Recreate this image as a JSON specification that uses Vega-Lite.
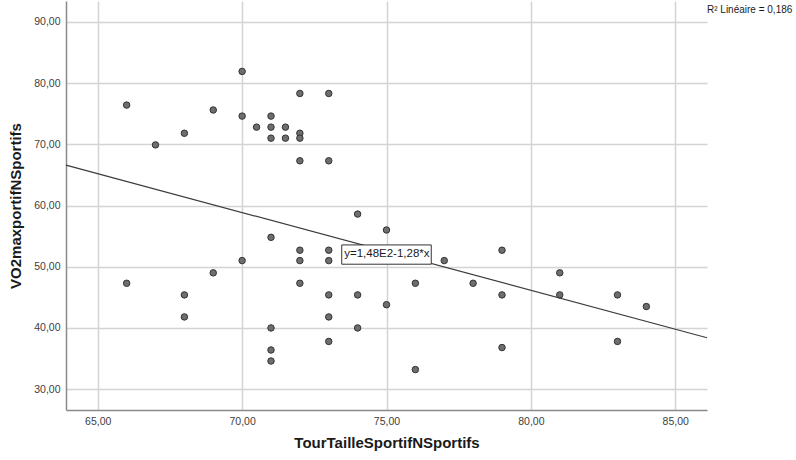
{
  "$schema": "https://vega.github.io/schema/vega-lite/v6.json",
  "autosize": {"type": "none"},
  "padding": {"left": 66, "top": 1, "right": 89, "bottom": 50},
  "width": 641,
  "height": 409,
  "background": "white",
  "config": {
    "view": {"stroke": null},
    "font": "Liberation Sans",
    "axis": {
      "grid": true,
      "gridColor": "#d4d4d4",
      "gridWidth": 1.5,
      "domainColor": "#8a8a8a",
      "domainWidth": 1.5,
      "ticks": false,
      "labelFont": "Liberation Sans",
      "labelFontSize": 10.5,
      "labelColor": "#404040",
      "titleFont": "Liberation Sans",
      "titleFontSize": 15,
      "titleFontWeight": "bold",
      "titleColor": "#1a1a1a"
    }
  },
  "datasets": {
    "pts": [
      {"tour": 66, "vo2": 76.4}, {"tour": 67, "vo2": 69.9}, {"tour": 68, "vo2": 71.8}, {"tour": 69, "vo2": 75.6},
      {"tour": 70, "vo2": 81.9}, {"tour": 70, "vo2": 74.6}, {"tour": 70.5, "vo2": 72.8}, {"tour": 71, "vo2": 74.6},
      {"tour": 71, "vo2": 72.8}, {"tour": 71, "vo2": 71.0}, {"tour": 71.5, "vo2": 72.8}, {"tour": 71.5, "vo2": 71.0},
      {"tour": 72, "vo2": 78.3}, {"tour": 72, "vo2": 71.8}, {"tour": 72, "vo2": 71.0}, {"tour": 72, "vo2": 67.3},
      {"tour": 73, "vo2": 78.3}, {"tour": 73, "vo2": 67.3},
      {"tour": 66, "vo2": 47.3}, {"tour": 68, "vo2": 45.4}, {"tour": 68, "vo2": 41.8}, {"tour": 69, "vo2": 49.0},
      {"tour": 70, "vo2": 51.0}, {"tour": 71, "vo2": 54.8}, {"tour": 71, "vo2": 40.0}, {"tour": 71, "vo2": 36.4},
      {"tour": 71, "vo2": 34.6}, {"tour": 72, "vo2": 52.7}, {"tour": 72, "vo2": 51.0}, {"tour": 72, "vo2": 47.3},
      {"tour": 73, "vo2": 52.7}, {"tour": 73, "vo2": 51.0}, {"tour": 73, "vo2": 45.4}, {"tour": 73, "vo2": 41.8},
      {"tour": 73, "vo2": 37.8}, {"tour": 74, "vo2": 58.6}, {"tour": 74, "vo2": 45.4}, {"tour": 74, "vo2": 40.0},
      {"tour": 75, "vo2": 56.0}, {"tour": 75, "vo2": 43.8}, {"tour": 76, "vo2": 47.3}, {"tour": 76, "vo2": 33.2},
      {"tour": 77, "vo2": 51.0}, {"tour": 78, "vo2": 47.3}, {"tour": 79, "vo2": 52.7}, {"tour": 79, "vo2": 45.4},
      {"tour": 79, "vo2": 36.8}, {"tour": 81, "vo2": 49.0}, {"tour": 81, "vo2": 45.4}, {"tour": 83, "vo2": 45.4},
      {"tour": 83, "vo2": 37.8}, {"tour": 84, "vo2": 43.5}
    ],
    "fit": [{"tour": 63.9, "vo2": 66.6}, {"tour": 86.1, "vo2": 38.4}],
    "box": [{"x1": 73.45, "x2": 76.55, "y1": 53.56, "y2": 50.41, "label": "y=1,48E2-1,28*x", "tx": 73.5, "ty": 52.0}],
    "r2": [{"tour": 86.1, "vo2": 91.93, "label": "R² Linéaire = 0,186"}]
  },
  "layer": [
    {
      "data": {"name": "pts"},
      "mark": {"type": "point", "filled": true, "shape": "circle", "size": 42, "fill": "#6e6e6e", "stroke": "#333333", "strokeWidth": 1, "opacity": 1},
      "encoding": {
        "x": {
          "field": "tour", "type": "quantitative",
          "scale": {"domain": [63.9, 86.1], "nice": false, "zero": false},
          "axis": {
            "title": "TourTailleSportifNSportifs",
            "values": [65, 70, 75, 80, 85],
            "labelExpr": "replace(format(datum.value, '.2f'), '.', ',')",
            "labelPadding": 6,
            "titlePadding": 9
          }
        },
        "y": {
          "field": "vo2", "type": "quantitative",
          "scale": {"domain": [26.6, 93.4], "nice": false, "zero": false},
          "axis": {
            "title": "VO2maxportifNSportifs",
            "values": [30, 40, 50, 60, 70, 80, 90],
            "labelExpr": "replace(format(datum.value, '.2f'), '.', ',')",
            "labelPadding": 6,
            "titlePadding": 10
          }
        }
      }
    },
    {
      "data": {"name": "fit"},
      "mark": {"type": "line", "color": "#3c3c3c", "strokeWidth": 1.2},
      "encoding": {
        "x": {"field": "tour", "type": "quantitative"},
        "y": {"field": "vo2", "type": "quantitative"}
      }
    },
    {
      "data": {"name": "box"},
      "mark": {"type": "rect", "fill": "white", "stroke": "#333333", "strokeWidth": 1},
      "encoding": {
        "x": {"field": "x1", "type": "quantitative"},
        "x2": {"field": "x2"},
        "y": {"field": "y1", "type": "quantitative"},
        "y2": {"field": "y2"}
      }
    },
    {
      "data": {"name": "box"},
      "mark": {"type": "text", "align": "left", "baseline": "middle", "fontSize": 11.5, "color": "#1a1a1a", "dx": 1},
      "encoding": {
        "x": {"field": "tx", "type": "quantitative"},
        "y": {"field": "ty", "type": "quantitative"},
        "text": {"field": "label"}
      }
    },
    {
      "data": {"name": "r2"},
      "mark": {"type": "text", "align": "left", "baseline": "middle", "fontSize": 10, "color": "#1a1a1a", "clip": false},
      "encoding": {
        "x": {"field": "tour", "type": "quantitative"},
        "y": {"field": "vo2", "type": "quantitative"},
        "text": {"field": "label"}
      }
    }
  ]
}
